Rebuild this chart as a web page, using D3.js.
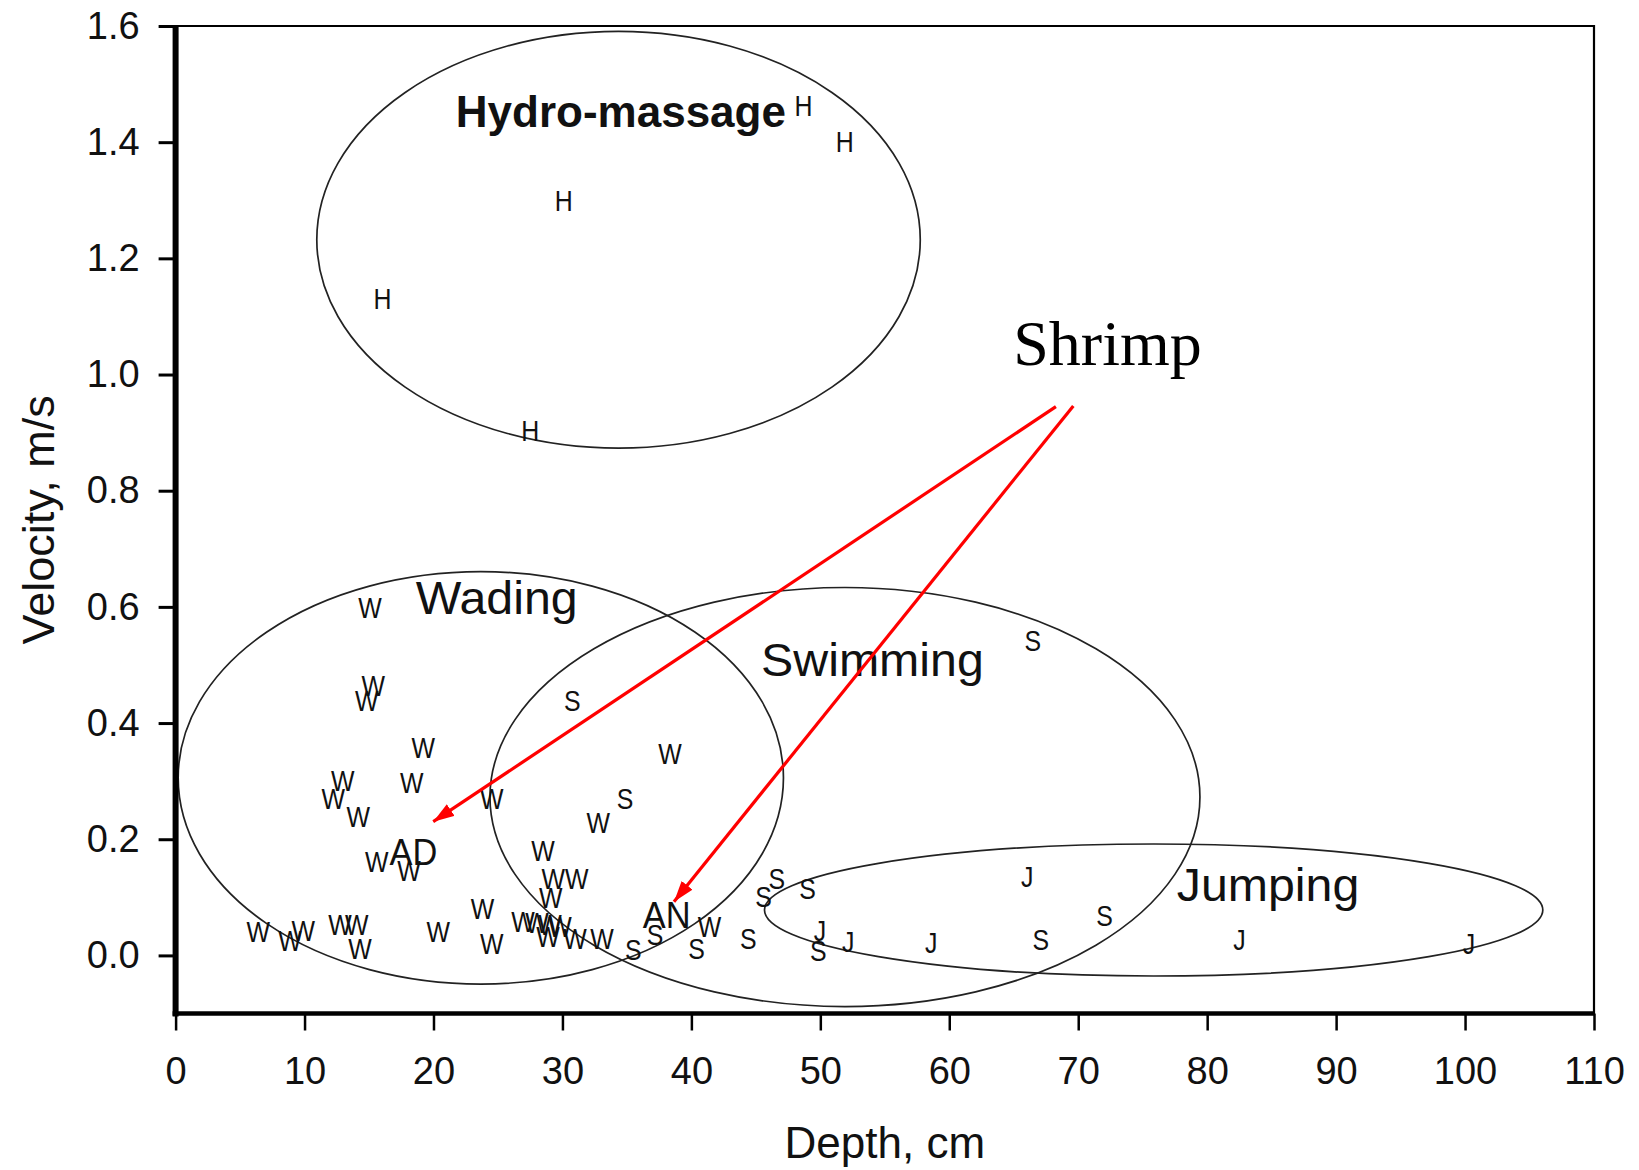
<!DOCTYPE html>
<html><head><meta charset="utf-8">
<script src="https://cdn.jsdelivr.net/npm/d3@7"></script>
<style>
body{margin:0;background:#fff;}
svg text{font-family:"Liberation Sans", Arial, Helvetica, sans-serif;fill:#111;}
</style>
</head><body>
<svg id="chart" width="1639" height="1170"></svg>
<script>
// ---------- data ----------
const xTicks = [0,10,20,30,40,50,60,70,80,90,100,110];
const yTicks = [0.0,0.2,0.4,0.6,0.8,1.0,1.2,1.4,1.6];
const xTitle = "Depth, cm";
const yTitle = "Velocity, m/s";

// Hydro-massage observations [depth, velocity]
const hPoints = [[48.7,1.463],[51.9,1.401],[30.1,1.300],[16.05,1.131],[27.5,0.905]];
// Wading observations
const wPoints = [
  [15.08,0.600],[15.33,0.466],[14.82,0.440],[19.21,0.359],[12.96,0.302],[12.23,0.270],
  [14.17,0.240],[18.31,0.299],[24.51,0.270],[15.6,0.162],[18.1,0.147],[28.5,0.181],
  [38.34,0.348],[32.78,0.230],[29.29,0.133],[31.1,0.133],[29.1,0.100],
  [6.4,0.041],[8.87,0.026],[9.9,0.044],[12.75,0.054],[14.04,0.054],[14.3,0.012],
  [20.37,0.041],[23.8,0.081],[24.51,0.021],
  [26.94,0.059],[28.02,0.058],[29.03,0.054],[29.81,0.051],[28.88,0.033],[30.97,0.030],[33.07,0.030],
  [41.4,0.050]
];
// Swimming observations
const sPoints = [
  [30.77,0.440],[34.85,0.270],[35.5,0.010],[37.18,0.036],[40.41,0.012],[44.41,0.029],
  [45.6,0.102],[46.62,0.133],[49.0,0.116],[49.84,0.009],[66.47,0.542],[72.05,0.070],[67.1,0.028]
];
// Jumping observations
const jPoints = [[49.97,0.044],[52.17,0.024],[58.6,0.022],[66.05,0.136],[82.5,0.028],[100.3,0.021]];

// Shrimp observations (labelled)
const shrimpNames = ["AD","AN"];
const shrimpX = [18.44, 38.08];
const shrimpY = [0.178, 0.070];

// Habitat ellipses: centre and radii in data units
const regionNames = ["Hydro-massage","Wading","Swimming","Jumping"];
const regionCx = [34.35, 23.67, 51.91, 75.85];
const regionCy = [1.232, 0.3057, 0.2727, 0.0782];
const regionRx = [23.4, 23.47, 27.53, 30.18];
const regionRy = [0.3587, 0.355, 0.3607, 0.1136];
// Label anchor (centre x, baseline y) in data units
const regionLabelX = [34.53, 24.9, 54.04, 84.72];
const regionLabelY = [1.4268, 0.587, 0.4815, 0.0945];

// Shrimp annotation
const annotText = "Shrimp";
const annotX = 72.27, annotY = 1.0165;
const arrowFrom = [[68.27,0.9447],[69.62,0.946]];
const arrowTo = [[19.98,0.2302],[38.65,0.0925]];

// ---------- drawing ----------
const svg = d3.select("#chart");
const x = d3.scaleLinear().domain([0,110]).range([175.6,1594]);
const y = d3.scaleLinear().domain([-0.1,1.6]).range([1013.5,26]);

// frame (top and right)
svg.append("path")
  .attr("d", `M${x(0)},${y(1.6)} H${x(110)} V${y(-0.1)}`)
  .attr("fill","none").attr("stroke","#000").attr("stroke-width",2.2);

// ellipses
const regions = regionNames.map((n,i)=>({n,i}));
svg.append("g").selectAll("ellipse").data(regions).join("ellipse")
  .attr("cx", d=>x(regionCx[d.i]))
  .attr("cy", d=>y(regionCy[d.i]))
  .attr("rx", d=>x(regionCx[d.i]+regionRx[d.i])-x(regionCx[d.i]))
  .attr("ry", d=>y(regionCy[d.i]-regionRy[d.i])-y(regionCy[d.i]))
  .attr("fill","none").attr("stroke","#222").attr("stroke-width",1.7);

// region labels
svg.append("g").selectAll("text").data(regions).join("text")
  .attr("transform", d=>`translate(${x(regionLabelX[d.i])},${y(regionLabelY[d.i])}) scale(${d.i===0?1:1.05},1)`)
  .attr("text-anchor","middle")
  .style("font-size", d=>d.i===0?"44px":"46px")
  .style("font-weight", d=>d.i===0?"bold":"normal")
  .text(d=>d.n);

// observation letters
const letterGroups = [["H",hPoints],["W",wPoints],["S",sPoints],["J",jPoints]];
const gPts = svg.append("g");
letterGroups.forEach(([ch,pts])=>{
  gPts.append("g").selectAll("text").data(pts).join("text")
    .attr("transform", d=>`translate(${x(d[0])},${y(d[1])}) scale(0.83,1)`)
    .attr("text-anchor","middle").attr("dy","0.36em")
    .style("font-size","30px")
    .text(ch);
});

// shrimp labels
svg.append("g").selectAll("text").data(shrimpNames).join("text")
  .attr("transform", (d,i)=>`translate(${x(shrimpX[i])},${y(shrimpY[i])}) scale(0.93,1)`)
  .attr("text-anchor","middle").attr("dy","0.36em")
  .style("font-size","37px")
  .text(d=>d);

// axes
const yAxis = d3.axisLeft(y).tickValues(yTicks).tickFormat(d3.format(".1f"))
  .tickSize(17).tickSizeOuter(0).tickPadding(19);
const gy = svg.append("g").attr("transform",`translate(${x(0)},0)`).call(yAxis);
gy.select(".domain").attr("stroke","#000").attr("stroke-width",6).attr("d",`M0,${y(1.6)-1}V${y(-0.1)+3}`);
gy.selectAll(".tick line").attr("stroke","#000").attr("stroke-width",3);
gy.selectAll(".tick text").style("font-size","38px").attr("fill","#111").style("font-family","'Liberation Sans', Arial, sans-serif");

const xAxis = d3.axisBottom(x).tickValues(xTicks).tickFormat(d3.format("d"))
  .tickSize(17).tickSizeOuter(0).tickPadding(27);
const gx = svg.append("g").attr("transform",`translate(0,${y(-0.1)})`).call(xAxis);
gx.select(".domain").attr("stroke","#000").attr("stroke-width",4.5).attr("d",`M${x(0)-3},0H${x(110)+1}`);
gx.selectAll(".tick line").attr("stroke","#000").attr("stroke-width",2.5);
gx.selectAll(".tick text").style("font-size","38px").attr("fill","#111").style("font-family","'Liberation Sans', Arial, sans-serif");

// axis titles
svg.append("text").attr("x",(x(0)+x(110))/2).attr("y",1158)
  .attr("text-anchor","middle").style("font-size","44px").text(xTitle);
svg.append("text").attr("transform",`translate(54,${(y(1.6)+y(-0.1))/2}) rotate(-90)`)
  .attr("text-anchor","middle").style("font-size","45px").text(yTitle);

// annotation arrows
svg.append("defs").append("marker").attr("id","arr")
  .attr("markerUnits","userSpaceOnUse").attr("markerWidth",24).attr("markerHeight",18)
  .attr("refX",21).attr("refY",7).attr("orient","auto")
  .append("path").attr("d","M0,0L21,7L0,14Z").attr("fill","#ff0000");
svg.append("g").selectAll("line").data(arrowFrom).join("line")
  .attr("x1",d=>x(d[0])).attr("y1",d=>y(d[1]))
  .attr("x2",(d,i)=>x(arrowTo[i][0])).attr("y2",(d,i)=>y(arrowTo[i][1]))
  .attr("stroke","#ff0000").attr("stroke-width",3.2).attr("marker-end","url(#arr)");

svg.append("text").attr("x",x(annotX)).attr("y",y(annotY))
  .attr("text-anchor","middle")
  .style("font-family","'Liberation Serif','Times New Roman',serif").style("font-size","64px").style("fill","#000")
  .text(annotText);
</script>
</body></html>
